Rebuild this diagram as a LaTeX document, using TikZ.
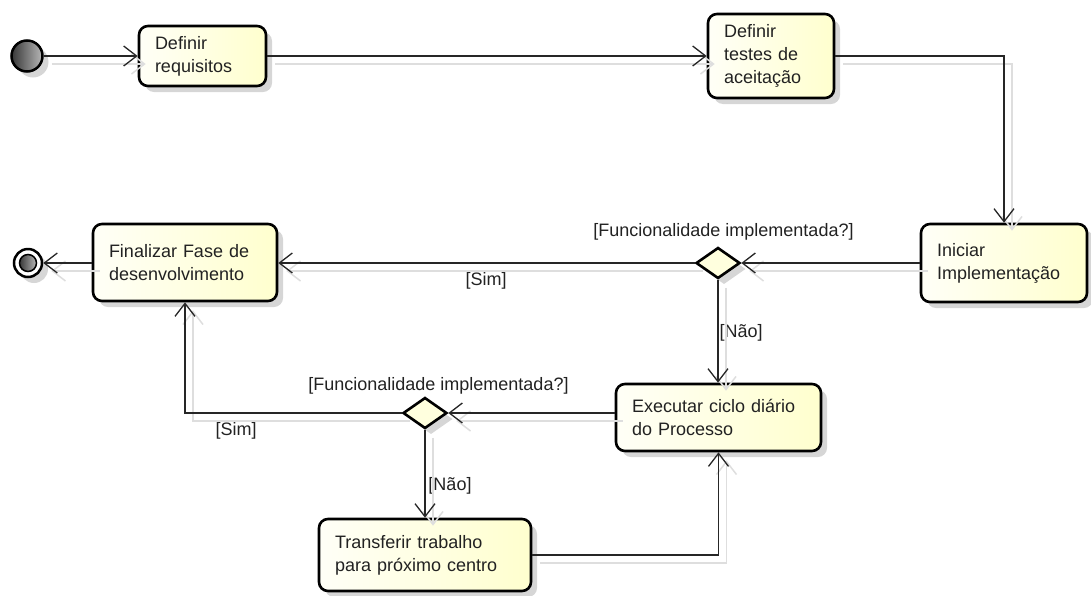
\documentclass[tikz,border=0pt]{standalone}
\usepackage{fontspec}
\setmainfont{Liberation Sans}
\usetikzlibrary{arrows.meta,shapes.geometric,shadows}
\definecolor{boxL}{RGB}{255,255,247}
\definecolor{boxR}{RGB}{255,255,206}
\definecolor{dfill}{RGB}{255,255,222}
\definecolor{txt}{RGB}{34,34,34}
\begin{document}
\begin{tikzpicture}[x=1pt,y=-1pt,
  every node/.style={font=\fontsize{18}{23}\selectfont, text=txt},
  shd/.style={drop shadow={shadow xshift=6pt, shadow yshift=-6pt, fill=black, opacity=0.16}},
  act/.style={rectangle, rounded corners=9pt, draw=black, line width=2.6pt,
    left color=boxL, right color=boxR, align=left, inner xsep=16pt, inner ysep=0pt, shd},
  dec/.style={diamond, draw=black, line width=2.6pt, fill=dfill,
    minimum width=44pt, minimum height=31pt, inner sep=0pt, shd},
  conn/.style={draw=black!85, line width=1.3pt, -{Straight Barb[length=13pt,width=20pt]}},
  connshadow/.style={draw=black!13, line width=1.5pt, -{Straight Barb[length=13pt,width=20pt]}},
  lbl/.style={inner sep=0pt}
]
\useasboundingbox (0,0) rectangle (1091,595);

% start and end
\node (start) [circle, minimum size=31pt, inner sep=0pt, draw=black, line width=2.5pt,
  left color=black!78, right color=black!28, shd] at (27,56) {};
\node (endnode) [circle, minimum size=28pt, inner sep=0pt, draw=black, line width=2.5pt,
  fill=white, shd] at (28,263) {};
\node (endcore) [circle, minimum size=17pt, inner sep=0pt, draw=black, line width=1.5pt,
  left color=black!78, right color=black!28] at (endnode) {};

% actions
\node (req) [act, minimum width=127pt, text width=95pt, minimum height=60pt] at (202.5,56) {Definir\\requisitos};
\node (testes) [act, minimum width=126pt, text width=94pt, minimum height=84pt] at (771,56) {Definir\\testes de\\aceitação};
\node (ini) [act, minimum width=166pt, text width=134pt, minimum height=78pt] at (1004,263) {Iniciar\\Implementação};
\node (fin) [act, minimum width=184pt, text width=152pt, minimum height=77pt] at (185,262.5) {Finalizar Fase de\\desenvolvimento};
\node (exe) [act, minimum width=205pt, text width=173pt, minimum height=67pt] at (718.5,417.5) {Executar ciclo diário\\do Processo};
\node (tra) [act, minimum width=212pt, text width=180pt, minimum height=72pt] at (425,555) {Transferir trabalho\\para próximo centro};

% decisions
\node (d1) [dec] at (718,263) {};
\node (d2) [dec] at (425,413) {};

% labels
\node (q1) [lbl] at (723.5,232) {[Funcionalidade implementada?]};
\node (q2) [lbl] at (438.5,386) {[Funcionalidade implementada?]};
\node (sim1) [lbl] at (486,281) {[Sim]};
\node (nao1) [lbl] at (741,333) {[Não]};
\node (sim2) [lbl] at (236,431) {[Sim]};
\node (nao2) [lbl] at (450,486) {[Não]};

% connector shadows
\begin{scope}[transform canvas={shift={(8pt,-8pt)}}]
\draw[connshadow] (start) -- (req);
\draw[connshadow] (req) -- (testes);
\draw[connshadow] (testes.east) -| (ini.north);
\draw[connshadow] (ini.west) -- (d1.east);
\draw[connshadow] (d1.west) -- (fin.east |- d1.west);
\draw[connshadow] (d1.south) -- (d1.south |- exe.north);
\draw[connshadow] (exe.west |- d2.east) -- (d2.east);
\draw[connshadow] (d2.west) -| (fin.south);
\draw[connshadow] (d2.south) -- (tra.north);
\draw[connshadow] (tra.east) -| (exe.south);
\draw[connshadow] (fin.west |- endnode) -- (endnode);
\end{scope}

% connectors
\draw[conn] (start) -- (req);
\draw[conn] (req) -- (testes);
\draw[conn] (testes.east) -| (ini.north);
\draw[conn] (ini.west) -- (d1.east);
\draw[conn] (d1.west) -- (fin.east |- d1.west);
\draw[conn] (d1.south) -- (d1.south |- exe.north);
\draw[conn] (exe.west |- d2.east) -- (d2.east);
\draw[conn] (d2.west) -| (fin.south);
\draw[conn] (d2.south) -- (tra.north);
\draw[conn] (tra.east) -| (exe.south);
\draw[conn] (fin.west |- endnode) -- (endnode);
\end{tikzpicture}
\end{document}
